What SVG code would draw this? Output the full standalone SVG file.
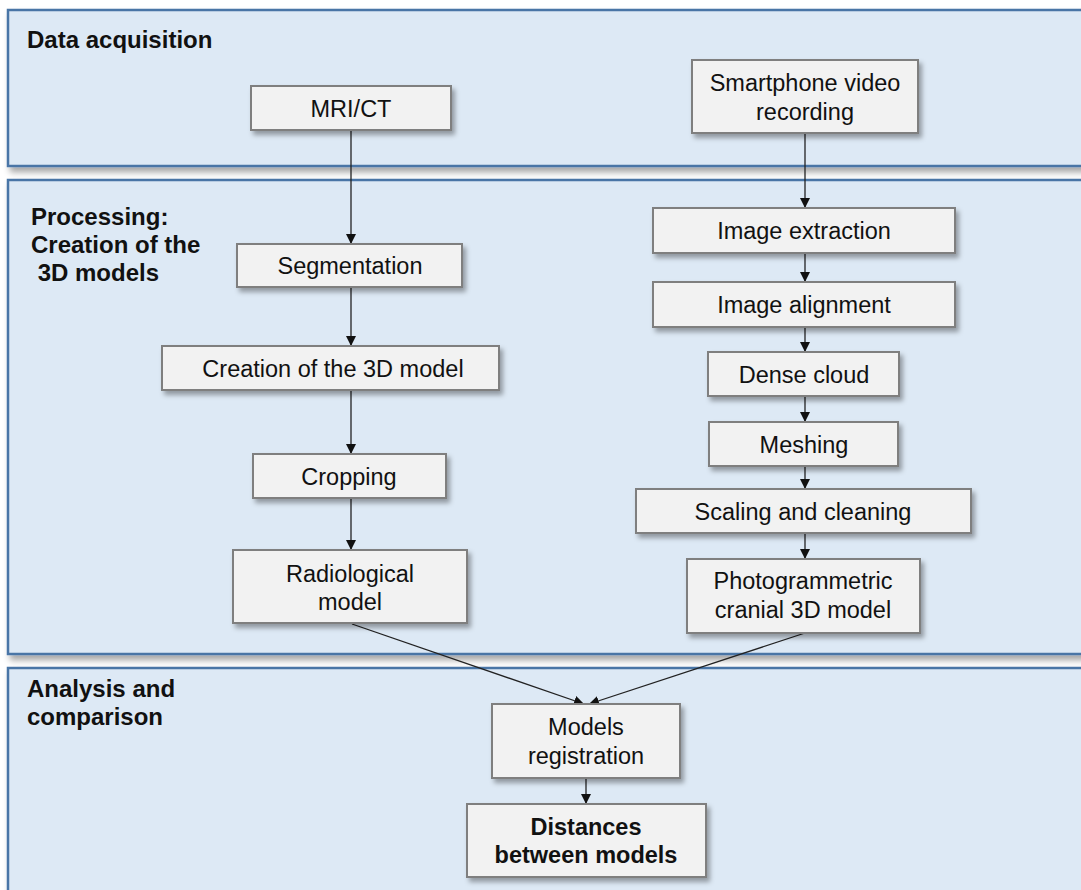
<svg xmlns="http://www.w3.org/2000/svg" width="1081" height="890" viewBox="0 0 1081 890">
<defs>
<filter id="sh" x="-10%" y="-10%" width="130%" height="140%">
<feDropShadow dx="3" dy="4" stdDeviation="2.5" flood-color="#000" flood-opacity="0.35"/>
</filter>
<filter id="psh" x="-5%" y="-5%" width="110%" height="120%">
<feDropShadow dx="3" dy="5" stdDeviation="3" flood-color="#000" flood-opacity="0.35"/>
</filter>
<marker id="ah" viewBox="0 0 10 10" refX="10" refY="5" markerWidth="10" markerHeight="10" markerUnits="userSpaceOnUse" orient="auto">
<path d="M0,0 L10,5 L0,10 z" fill="#111"/>
</marker>
<style>
.panel{fill:#dde9f5;stroke:#4a74a6;stroke-width:2.5;filter:url(#psh)}
.node rect{fill:#f2f2f2;stroke:#7f7f7f;stroke-width:2;filter:url(#sh)}
.t{font-family:"Liberation Sans",Arial,sans-serif;font-size:23.5px;fill:#111;text-anchor:middle}
.b{font-weight:bold}
.h{font-family:"Liberation Sans",Arial,sans-serif;font-size:24px;font-weight:bold;fill:#111}
.c{stroke:#222;stroke-width:1.3;fill:none;marker-end:url(#ah)}
</style>
</defs>
<rect width="1081" height="890" fill="#ffffff"/>
<g id="panels">
<rect class="panel" x="8" y="10" width="1090" height="156"/>
<rect class="panel" x="8" y="180" width="1090" height="474"/>
<rect class="panel" x="8" y="668" width="1090" height="240"/>
<text class="h" x="27" y="48">Data acquisition</text>
<text class="h" x="31" y="225">Processing:</text>
<text class="h" x="31" y="253">Creation of the</text>
<text class="h" x="31" y="281" xml:space="preserve"> 3D models</text>
<text class="h" x="27" y="697">Analysis and</text>
<text class="h" x="27" y="725">comparison</text>
</g>
<g id="connectors">
<line class="c" x1="351" y1="130" x2="351" y2="244"/>
<line class="c" x1="351" y1="287" x2="351" y2="346"/>
<line class="c" x1="351" y1="390" x2="351" y2="454"/>
<line class="c" x1="351" y1="498" x2="351" y2="550"/>
<line class="c" x1="805" y1="133" x2="805" y2="208"/>
<line class="c" x1="805" y1="253" x2="805" y2="282"/>
<line class="c" x1="805" y1="327" x2="805" y2="352"/>
<line class="c" x1="805" y1="396" x2="805" y2="422"/>
<line class="c" x1="805" y1="466" x2="805" y2="489"/>
<line class="c" x1="805" y1="533" x2="805" y2="559"/>
<line class="c" x1="352" y1="624" x2="584" y2="704"/>
<line class="c" x1="805" y1="633" x2="589" y2="704"/>
<line class="c" x1="586" y1="778" x2="586" y2="804"/>
</g>
<g id="mri" class="node"><rect x="251" y="86" width="200" height="44"/><text class="t" x="351" y="117">MRI/CT</text></g>
<g id="smartphone" class="node"><rect x="692" y="60" width="226" height="73"/><text class="t" x="805" y="91">Smartphone video</text><text class="t" x="805" y="120">recording</text></g>
<g id="segmentation" class="node"><rect x="237" y="244" width="225" height="43"/><text class="t" x="350" y="274">Segmentation</text></g>
<g id="creation" class="node"><rect x="162" y="346" width="337" height="44"/><text class="t" x="333" y="377">Creation of the 3D model</text></g>
<g id="cropping" class="node"><rect x="253" y="454" width="193" height="44"/><text class="t" x="349" y="485">Cropping</text></g>
<g id="radiological" class="node"><rect x="233" y="550" width="234" height="73"/><text class="t" x="350" y="582">Radiological</text><text class="t" x="350" y="610">model</text></g>
<g id="extraction" class="node"><rect x="653" y="208" width="302" height="45"/><text class="t" x="804" y="239">Image extraction</text></g>
<g id="alignment" class="node"><rect x="653" y="282" width="302" height="45"/><text class="t" x="804" y="313">Image alignment</text></g>
<g id="dense" class="node"><rect x="708" y="352" width="191" height="44"/><text class="t" x="804" y="383">Dense cloud</text></g>
<g id="meshing" class="node"><rect x="709" y="422" width="189" height="44"/><text class="t" x="804" y="453">Meshing</text></g>
<g id="scaling" class="node"><rect x="636" y="489" width="335" height="44"/><text class="t" x="803" y="520">Scaling and cleaning</text></g>
<g id="photogrammetric" class="node"><rect x="687" y="559" width="233" height="74"/><text class="t" x="803" y="589">Photogrammetric</text><text class="t" x="803" y="618">cranial 3D model</text></g>
<g id="registration" class="node"><rect x="492" y="704" width="188" height="74"/><text class="t" x="586" y="735">Models</text><text class="t" x="586" y="764">registration</text></g>
<g id="distances" class="node"><rect x="467" y="804" width="239" height="73"/><text class="t b" x="586" y="835">Distances</text><text class="t b" x="586" y="863">between models</text></g>
</svg>
